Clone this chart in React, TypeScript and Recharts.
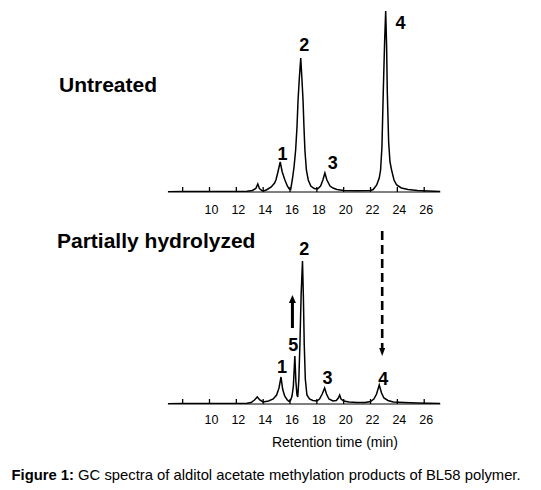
import React from 'react';
import { LineChart, Line, XAxis, YAxis, ReferenceDot, ReferenceLine } from 'recharts';

const FONT = '"Liberation Sans", Arial, Helvetica, sans-serif';

// Retention-time axis ticks (min)
const timeTicks = [8, 10, 12, 14, 16, 18, 20, 22, 24, 26];
const timeDomain = [6.9, 27.2];

// Untreated trace (time in min, detector signal in arbitrary units)
const untreatedTime = [
  6.9, 8, 9, 10, 11, 12, 12.8, 13.2, 13.45, 13.6, 13.72, 13.9, 14.1, 14.3,
  14.6, 14.85, 14.95, 15.1, 15.27, 15.42, 15.62, 15.8, 15.94, 16.05,
  16.17, 16.3, 16.42, 16.52, 16.6, 16.7, 16.8, 16.88, 16.97, 17.04, 17.11, 17.22, 17.36, 17.55, 17.8,
  18.05, 18.28, 18.45, 18.6, 18.75, 18.98, 19.2, 19.5, 20, 21, 22.0, 22.2, 22.46, 22.65,
  22.75, 22.85, 22.95, 23.05, 23.13, 23.2, 23.25, 23.35, 23.45, 23.57, 23.75, 23.95,
  24.3, 24.8, 25.5, 26.3, 27.2,
];
const untreatedSignal = [
  0.3, 0.4, 0.5, 0.5, 0.5, 0.6, 0.8, 1.5, 3.5, 8, 3.5, 1.5, 1.3, 2.5,
  5, 9, 12, 20, 30, 20, 12, 6, 3, 2.5,
  12, 25, 42, 65, 92, 115, 134, 115, 92, 65, 42, 22, 12, 6, 3.5,
  3, 6, 12, 19, 12, 6, 4, 2.5, 1.5, 1.2, 1.5, 2.5, 7, 14,
  22, 45, 100, 150, 181, 145, 100, 50, 30, 22, 12, 7,
  4, 2.5, 1.5, 1, 0.5,
];

// Partially hydrolyzed trace
const hydrolyzedTime = [
  6.9, 8, 9, 10, 11, 12, 12.8, 13.1, 13.35, 13.56, 13.75, 14.0, 14.4, 14.75,
  15.0, 15.18, 15.33, 15.45, 15.6, 15.8, 15.94, 16.05, 16.15, 16.25, 16.36, 16.44, 16.52, 16.58,
  16.66, 16.74, 16.83, 16.93, 17.0, 17.06, 17.14, 17.26, 17.45, 17.7, 18.0,
  18.2, 18.4, 18.58, 18.72, 18.9, 19.2, 19.45, 19.6, 19.7, 19.8, 20.0, 20.4, 21,
  21.6, 22.0, 22.25, 22.45, 22.65, 22.82, 23.0, 23.3, 23.7, 24.5, 25.5, 27.2,
];
const hydrolyzedSignal = [
  0.3, 0.5, 0.5, 0.5, 0.5, 0.6, 0.8, 1.5, 4, 7, 4, 2, 3, 5,
  9, 16, 27, 15, 8, 4, 2.5, 4, 8, 18, 48, 22, 9, 7,
  25, 60, 110, 143, 105, 60, 25, 9, 5, 3.5, 3,
  5, 10, 16, 10, 5, 3, 3.5, 6, 9, 5, 3, 2, 1.5,
  1.5, 2.5, 5, 10, 19, 11, 6, 3.5, 2, 1.5, 1, 0.5,
];

// Peak number labels
const untreatedPeakNames = ['1', '2', '3', '4'];
const untreatedPeakLabelTime = [15.45, 17.06, 19.18, 24.24];
const untreatedPeakLabelHeight = [38, 147, 29, 169];

const hydrolyzedPeakNames = ['1', '5', '2', '3', '4'];
const hydrolyzedPeakLabelTime = [15.4, 16.24, 17.06, 18.8, 22.95];
const hydrolyzedPeakLabelHeight = [37, 59, 155, 26, 25];

// Arrows (time, start height, tip height)
const increaseArrow = { t: 16.18, from: 76, to: 109 };
const decreaseArrow = { t: 22.87, from: 173, to: 48 };

const untreatedData = untreatedTime.map((t, i) => ({ t, v: untreatedSignal[i] }));
const hydrolyzedData = hydrolyzedTime.map((t, i) => ({ t, v: hydrolyzedSignal[i] }));

const makeTick = (labelDy: number) => (props: any) => {
  const { x, y, payload } = props;
  return (
    <g>
      <line x1={x} x2={x} y1={y - 5} y2={y} stroke="#000" strokeWidth={1.3} />
      {payload.value !== 8 ? (
        <text x={x + 2} y={y + labelDy} textAnchor="middle" fontSize={12.5} fontFamily={FONT} fill="#000">
          {payload.value}
        </text>
      ) : null}
    </g>
  );
};

const arrowShape = (dashed: boolean) => (props: any) => {
  const { x1, y1, y2 } = props;
  const dir = y2 < y1 ? -1 : 1;
  const head = 8;
  const half = dashed ? 3 : 3.5;
  const shaftEnd = y2 - dir * head;
  return (
    <g>
      <line
        x1={x1}
        x2={x1}
        y1={y1}
        y2={shaftEnd}
        stroke="#000"
        strokeWidth={dashed ? 2.6 : 3}
        strokeDasharray={dashed ? '9 5' : undefined}
      />
      <polygon points={`${x1},${y2} ${x1 - half},${shaftEnd} ${x1 + half},${shaftEnd}`} fill="#000" />
    </g>
  );
};

const peakLabel = (value: string) => ({
  value,
  position: 'center' as const,
  fontSize: 18,
  fontWeight: 'bold',
  fontFamily: FONT,
  fill: '#000',
});

const chartMargin = { top: 2, right: 100.7, bottom: 0, left: 167.9 };

export default function App() {
  return (
    <div style={{ position: 'absolute', left: 0, top: 0, width: 541, height: 490, background: '#fff', overflow: 'hidden' }}>
      <div style={{ position: 'absolute', left: 0, top: 0 }}>
        <LineChart width={541} height={220} data={untreatedData} margin={chartMargin}>
          <XAxis
            dataKey="t"
            type="number"
            domain={timeDomain}
            ticks={timeTicks}
            allowDataOverflow
            height={28}
            tickSize={0}
            tickMargin={0}
            tickLine={false}
            axisLine={{ stroke: '#000', strokeWidth: 1 }}
            tick={makeTick(21.5)}
          />
          <YAxis hide type="number" domain={[0, 190]} allowDataOverflow />
          <Line dataKey="v" type="linear" stroke="#000" strokeWidth={1.5} dot={false} isAnimationActive={false} />
          {untreatedPeakNames.map((n, i) => (
            <ReferenceDot
              key={'u' + i}
              x={untreatedPeakLabelTime[i]}
              y={untreatedPeakLabelHeight[i]}
              r={0}
              fill="none"
              stroke="none"
              ifOverflow="visible"
              label={peakLabel(n)}
            />
          ))}
        </LineChart>
      </div>
      <div style={{ position: 'absolute', left: 0, top: 212 }}>
        <LineChart width={541} height={222} data={hydrolyzedData} margin={chartMargin}>
          <XAxis
            dataKey="t"
            type="number"
            domain={timeDomain}
            ticks={timeTicks}
            allowDataOverflow
            height={30}
            tickSize={0}
            tickMargin={0}
            tickLine={false}
            axisLine={{ stroke: '#000', strokeWidth: 1 }}
            tick={makeTick(19.5)}
          />
          <YAxis hide type="number" domain={[0, 190]} allowDataOverflow />
          <Line dataKey="v" type="linear" stroke="#000" strokeWidth={1.5} dot={false} isAnimationActive={false} />
          {hydrolyzedPeakNames.map((n, i) => (
            <ReferenceDot
              key={'h' + i}
              x={hydrolyzedPeakLabelTime[i]}
              y={hydrolyzedPeakLabelHeight[i]}
              r={0}
              fill="none"
              stroke="none"
              ifOverflow="visible"
              label={peakLabel(n)}
            />
          ))}
          <ReferenceLine
            segment={[
              { x: increaseArrow.t, y: increaseArrow.from },
              { x: increaseArrow.t, y: increaseArrow.to },
            ]}
            ifOverflow="visible"
            shape={arrowShape(false)}
          />
          <ReferenceLine
            segment={[
              { x: decreaseArrow.t, y: decreaseArrow.from },
              { x: decreaseArrow.t, y: decreaseArrow.to },
            ]}
            ifOverflow="visible"
            shape={arrowShape(true)}
          />
        </LineChart>
      </div>
      <svg width={541} height={490} style={{ position: 'absolute', left: 0, top: 0, pointerEvents: 'none' }}>
        <text x={59} y={91.5} fontSize={21} fontWeight="bold" fontFamily={FONT} fill="#000">
          Untreated
        </text>
        <text x={57} y={247.5} fontSize={21} fontWeight="bold" fontFamily={FONT} fill="#000">
          Partially hydrolyzed
        </text>
        <text x={335} y={446.5} fontSize={14} textAnchor="middle" fontFamily={FONT} fill="#000">
          Retention time (min)
        </text>
        <text x={11.5} y={479.5} fontSize={14.8} fontFamily={FONT} fill="#000">
          <tspan fontWeight="bold">Figure 1:</tspan>
          <tspan> GC spectra of alditol acetate methylation products of BL58 polymer.</tspan>
        </text>
      </svg>
    </div>
  );
}
